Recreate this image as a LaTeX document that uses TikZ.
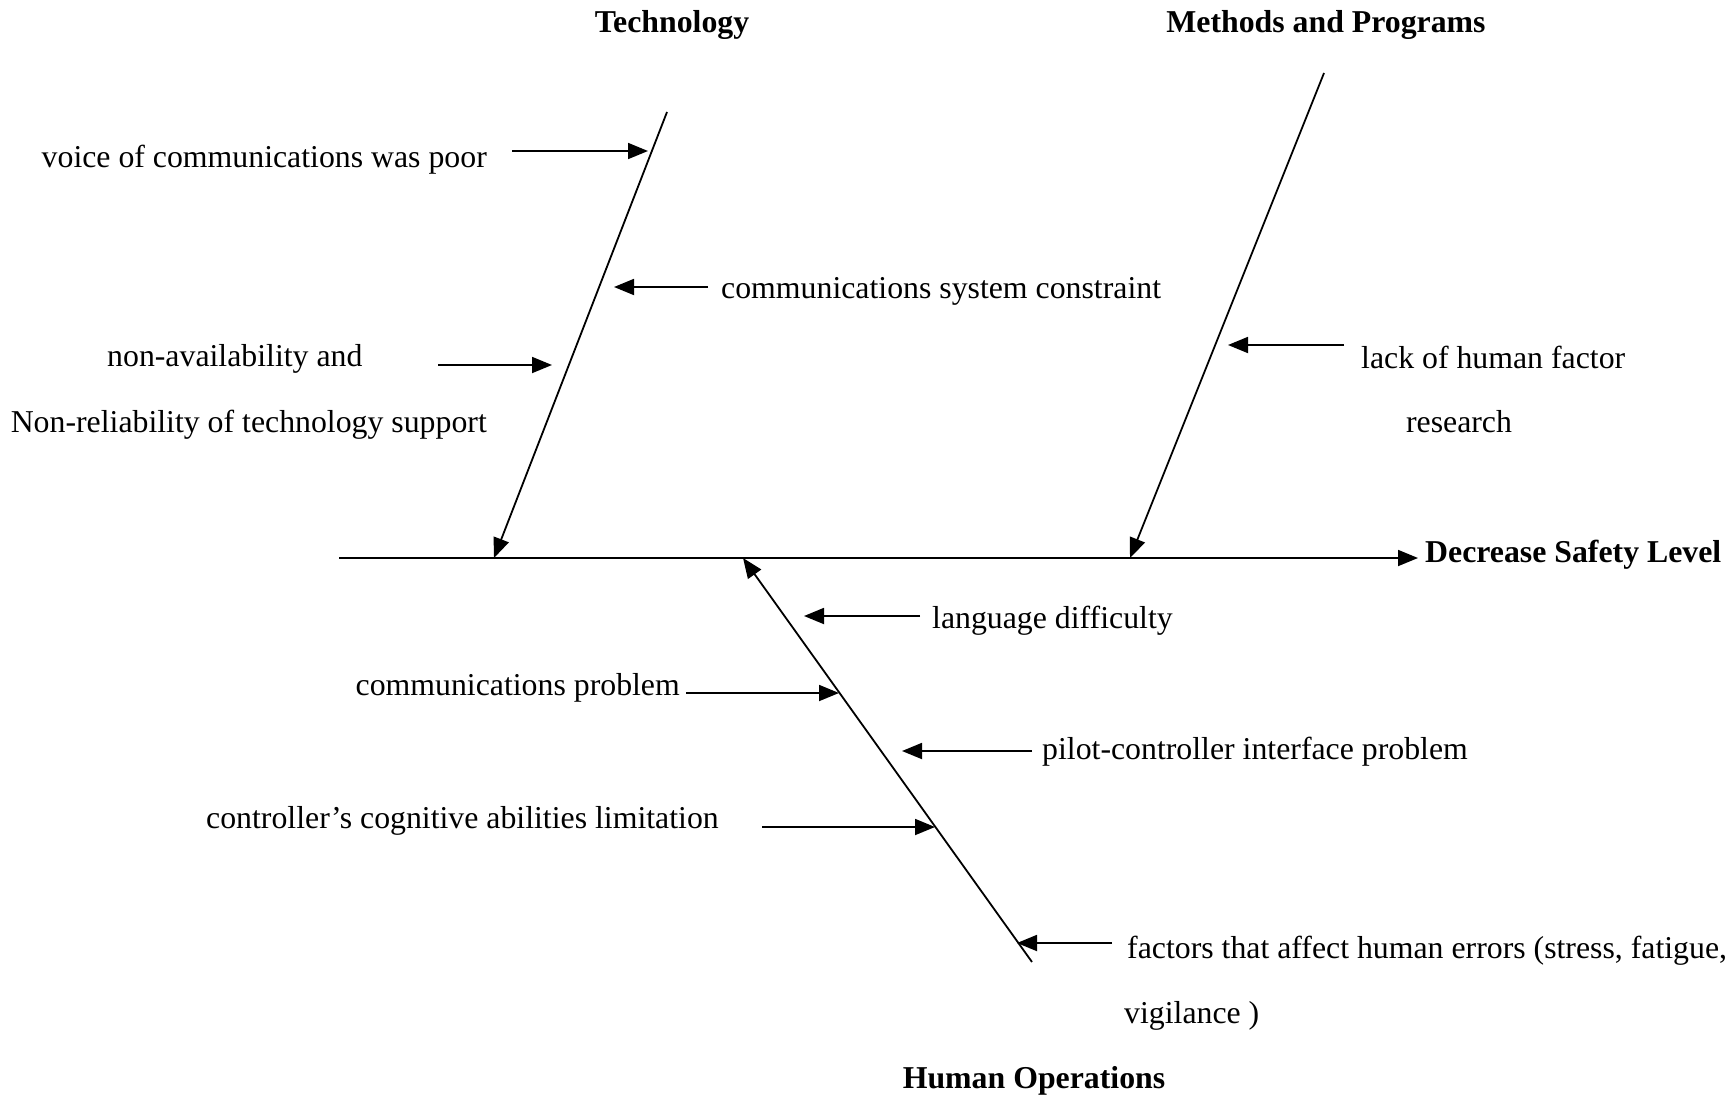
\documentclass[tikz,border=0pt]{standalone}
\usepackage{fontspec}
\setmainfont{Liberation Serif}
\usetikzlibrary{arrows.meta}
\begin{document}
\begin{tikzpicture}[x=1pt,y=-1pt,
  bone/.style={line width=1.8pt, -{Triangle[length=20pt,width=16pt]}},
  twig/.style={line width=1.8pt, -{Triangle[length=20pt,width=16pt]}},
  lbl/.style={font=\fontsize{31.8}{38}\selectfont, inner sep=0pt},
  head/.style={font=\fontsize{31.8}{38}\selectfont\bfseries, inner sep=0pt}]
\useasboundingbox[fill=white] (0,0) rectangle (1734,1098);

% category headings
\node[head] (tech) at (672,25) {Technology};
\node[head] (meth) at (1326,25) {Methods and Programs};
\node[head] (hum)  at (1034,1081) {Human Operations};

% effect and spine
\node[head, anchor=west] (effect) at (1425,555) {Decrease Safety Level};
\coordinate (tail) at (339,558);
\coordinate (head) at (1418,558);
\draw[bone] (tail) -- (head);

% main bones
\coordinate (t0) at (667,112);  \coordinate (t1) at (494,558);
\coordinate (m0) at (1324,73);  \coordinate (m1) at (1130,558);
\coordinate (h0) at (1032,962); \coordinate (h1) at (743,558);
\draw[bone] (t0) -- (t1);
\draw[bone] (m0) -- (m1);
\draw[bone] (h0) -- (h1);

% technology causes
\node[lbl, anchor=east] (c1) at (487,160) {voice of communications was poor};
\coordinate (c1a) at (512,151); \coordinate (c1b) at (648,151);
\draw[twig] (c1a) -- (c1b);

\node[lbl, anchor=west] (c2) at (721,291) {communications system constraint};
\coordinate (c2a) at (708,287); \coordinate (c2b) at (614,287);
\draw[twig] (c2a) -- (c2b);

\node[lbl, anchor=west] (c3) at (107,359) {non-availability and};
\node[lbl, anchor=east] (c3b) at (487,425) {Non-reliability of technology support};
\coordinate (c3a) at (438,365); \coordinate (c3e) at (552,365);
\draw[twig] (c3a) -- (c3e);

% methods and programs causes
\node[lbl, anchor=west] (c4) at (1361,357) {lack of human factor};
\node[lbl] (c4b) at (1459,422) {research};
\coordinate (c4a) at (1344,345); \coordinate (c4e) at (1228,345);
\draw[twig] (c4a) -- (c4e);

% human operations causes
\node[lbl, anchor=west] (c5) at (932,621) {language difficulty};
\coordinate (c5a) at (920,616); \coordinate (c5e) at (804,616);
\draw[twig] (c5a) -- (c5e);

\node[lbl, anchor=east] (c6) at (680,688) {communications problem};
\coordinate (c6a) at (686,693); \coordinate (c6e) at (839,693);
\draw[twig] (c6a) -- (c6e);

\node[lbl, anchor=west] (c7) at (1042,752) {pilot-controller interface problem};
\coordinate (c7a) at (1032,751); \coordinate (c7e) at (902,751);
\draw[twig] (c7a) -- (c7e);

\node[lbl, anchor=west] (c8) at (206,821) {controller's cognitive abilities limitation};
\coordinate (c8a) at (762,827); \coordinate (c8e) at (935,827);
\draw[twig] (c8a) -- (c8e);

\node[lbl, anchor=west] (c9) at (1127,951) {factors that affect human errors (stress, fatigue,};
\node[lbl, anchor=west] (c9b) at (1124,1016) {vigilance )};
\coordinate (c9a) at (1112,943); \coordinate (c9e) at (1017,943);
\draw[twig] (c9a) -- (c9e);
\end{tikzpicture}
\end{document}
